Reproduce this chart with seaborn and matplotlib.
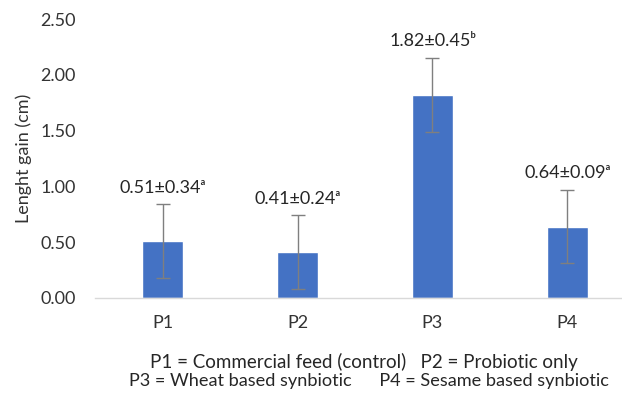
import matplotlib
matplotlib.use("Agg")
import matplotlib.pyplot as plt
import seaborn as sns
import pandas as pd

# ---- data ----
categories = ["P1", "P2", "P3", "P4"]
means = [0.51, 0.41, 1.82, 0.64]
label_sd = [0.34, 0.24, 0.45, 0.09]
letters = ["a", "a", "b", "a"]
drawn_err = [0.33, 0.33, 0.33, 0.33]
yticks = [0.0, 0.5, 1.0, 1.5, 2.0, 2.5]
ylabel = "Lenght gain (cm)"
caption1 = "P1 = Commercial feed (control)   P2 = Probiotic only"
caption2 = "P3 = Wheat based synbiotic      P4 = Sesame based synbiotic"

sup = {"a": "\u1d43", "b": "\u1d47"}

sns.set_theme(style="white")
plt.rcParams["font.family"] = ["Lato", "DejaVu Sans"]

FS = 13
W, H = 622, 394
fig = plt.figure(figsize=(W / 100, H / 100), dpi=100)
ax = fig.add_axes([95 / W, (H - 298) / H, 540 / W, 279 / H])

df = pd.DataFrame({"cat": categories, "val": means})
sns.barplot(data=df, x="cat", y="val", color="#4472C4", saturation=1,
            width=0.31, ax=ax, errorbar=None)
ax.errorbar(x=range(len(categories)), y=means, yerr=drawn_err, fmt="none",
            ecolor="#7f7f7f", elinewidth=1, capsize=5, capthick=1)

for i, (m, s, l) in enumerate(zip(means, label_sd, letters)):
    ax.annotate(f"{m:.2f}±{s:.2f}{sup[l]}", xy=(i, m + drawn_err[i]),
                xytext=(0, 12), textcoords="offset points", ha="center",
                va="center", fontsize=FS, color="#262626")

ax.set_xlim(-0.5, len(categories) - 0.5)
ax.set_ylim(0, 2.5)
ax.set_yticks(yticks)
ax.set_yticklabels([f"{t:.2f}" for t in yticks])
ax.tick_params(axis="both", length=0, labelsize=FS, colors="#333333")
ax.tick_params(axis="y", pad=14)
ax.tick_params(axis="x", pad=12)
ax.set_xlabel("")
ax.set_ylabel(ylabel, fontsize=FS, color="#333333", labelpad=6)
for sp in ["top", "right", "left"]:
    ax.spines[sp].set_visible(False)
ax.spines["bottom"].set_color("#d9d9d9")
ax.spines["bottom"].set_linewidth(1)

fig.text(150 / W, 1 - 362 / H, caption1, ha="left", va="center",
         fontsize=13.5, color="#262626")
fig.text(129 / W, 1 - 381 / H, caption2, ha="left", va="center",
         fontsize=13.1, color="#262626")

fig.savefig("out.png", dpi=100, facecolor="white")
